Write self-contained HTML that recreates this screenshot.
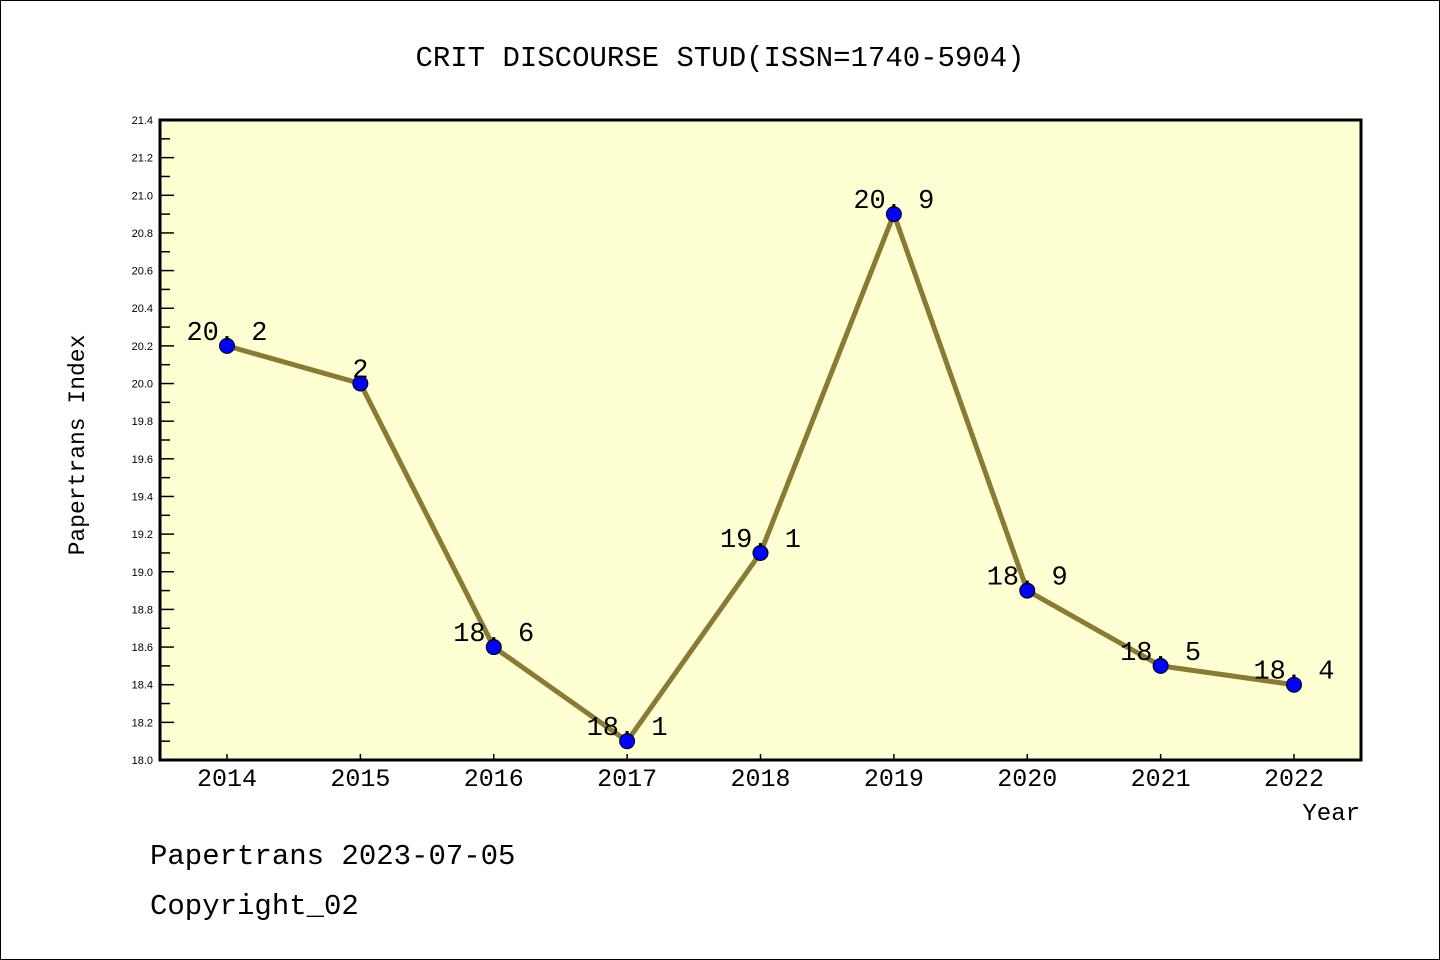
<!DOCTYPE html>
<html><head><meta charset="utf-8"><style>
html,body{margin:0;padding:0;background:#fff}
svg{display:block}
text{font-family:"Liberation Mono","WenQuanYi Zen Hei",monospace;fill:#000}
.yt{font-family:"Liberation Sans","DejaVu Sans",sans-serif;font-size:11px}
</style></head><body>
<svg id="chart" width="1440" height="960" xmlns="http://www.w3.org/2000/svg">
<rect x="0.5" y="0.5" width="1439" height="959" fill="#fff" stroke="#000"/>
<text x="720" y="66" font-size="29" text-anchor="middle">CRIT DISCOURSE STUD(ISSN=1740-5904)</text>
<rect x="160" y="120" width="1201" height="640" fill="#ffffd4"/>
<g id="axes"></g>
<g id="series"></g>
<rect x="160" y="120" width="1201" height="640" fill="none" stroke="#000" stroke-width="3"/>
<text transform="translate(84,445) rotate(-90)" font-size="23" text-anchor="middle">Papertrans Index</text>
<text x="1360" y="820" font-size="24" text-anchor="end">Year</text>
<text x="150" y="864" font-size="29">Papertrans 2023-07-05</text>
<text x="150" y="914" font-size="29">Copyright_02</text>
</svg>
<script>
const categories = ["2014","2015","2016","2017","2018","2019","2020","2021","2022"];
const values = [20.2, 20.0, 18.6, 18.1, 19.1, 20.9, 18.9, 18.5, 18.4];
const pointLabels = ["20. 2","2","18. 6","18. 1","19. 1","20. 9","18. 9","18. 5","18. 4"];
const yTicks = ["18.0","18.2","18.4","18.6","18.8","19.0","19.2","19.4","19.6","19.8","20.0","20.2","20.4","20.6","20.8","21.0","21.2","21.4"];

const NS="http://www.w3.org/2000/svg";
const L=160,R=1361,T=120,B=760,yMin=18.0,yMax=21.4;
const x0=227,dx=(1294-227)/(categories.length-1);
function xs(i){return x0+i*dx;}
function ys(v){return B-(v-yMin)/(yMax-yMin)*(B-T);}
function mk(tag,attrs,parent){const e=document.createElementNS(NS,tag);for(const k in attrs)e.setAttribute(k,attrs[k]);parent.appendChild(e);return e;}
const axes=document.getElementById('axes'),ser=document.getElementById('series');

yTicks.forEach((t,i)=>{
  const v=parseFloat(t),y=ys(v);
  const ln=mk('line',{x1:L,x2:L+14,y1:y,y2:y,stroke:'#000','stroke-width':1.5},axes);
  
  
  const tx=mk('text',{x:153,y:y+4,'text-anchor':'end',class:'yt'},axes);
  
  
  tx.textContent=t;
  if(i<yTicks.length-1){
    const ym=ys(v+0.1);
    const mn=mk('line',{x1:L,x2:L+10,y1:ym,y2:ym,stroke:'#000','stroke-width':1.5},axes);
    
    
  }
});
categories.forEach((c,i)=>{
  const x=xs(i);
  const tk=mk('line',{x1:x,x2:x,y1:B,y2:B-6,stroke:'#000','stroke-width':1.5},axes);
  
  
  const tx=mk('text',{x:x,y:786,'text-anchor':'middle','font-size':25},axes);
  
  
  tx.textContent=c;
});
const pts=values.map((v,i)=>xs(i)+','+ys(v)).join(' ');
const pl=mk('polyline',{points:pts,fill:'none',stroke:'#8b7a32','stroke-width':5,'stroke-linejoin':'round'},ser);


values.forEach((v,i)=>{
  const c=mk('circle',{cx:xs(i),cy:ys(v),r:7.5,fill:'#0000ff',stroke:'#000','stroke-width':1},ser);
  
  
  const t=mk('text',{x:xs(i),y:ys(v)-6,'text-anchor':'middle','font-size':27},ser);
  
  
  t.textContent=pointLabels[i];
});
</script>
</body></html>
